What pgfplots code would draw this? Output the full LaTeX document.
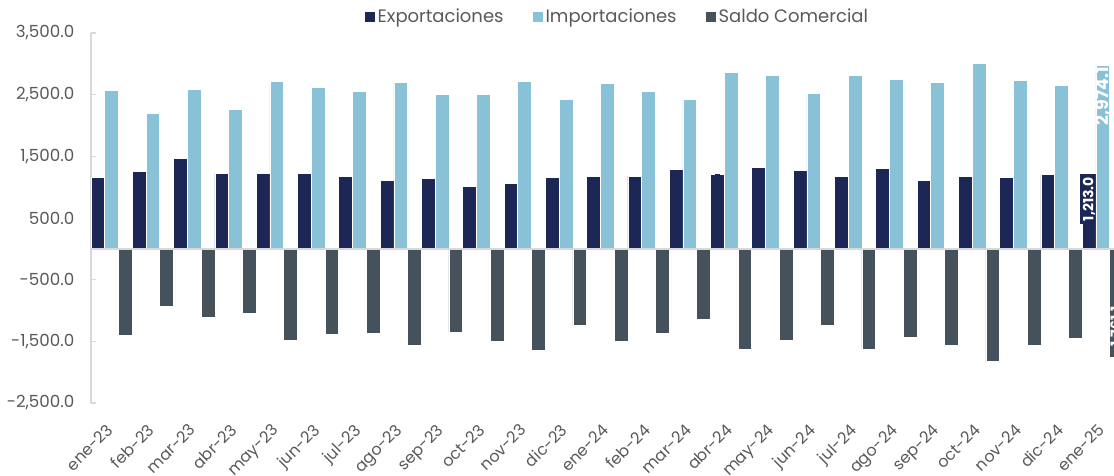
\documentclass[border=0pt]{standalone}
\usepackage{fontspec}
\setmainfont{Poppins}
\usepackage{pgfplots}
\usepackage{pgfplotstable}
\pgfplotsset{compat=1.18}
\usetikzlibrary{calc}

\definecolor{expcol}{HTML}{1C2756}
\definecolor{impcol}{HTML}{89C1D6}
\definecolor{salcol}{HTML}{45525C}
\definecolor{txtgray}{HTML}{595959}
\definecolor{axgray}{HTML}{D9D9D9}

% millones de USD, ene-23 .. ene-25 (x = 0..24)
\pgfplotstableread{
x y
0 1157
1 1255
2 1461
3 1222
4 1222
5 1222
6 1178
7 1113
8 1136
9 1006
10 1060
11 1157
12 1168
13 1178
14 1287
15 1211
16 1320
17 1271
18 1178
19 1298
20 1113
21 1178
22 1162
23 1201
24 1213.0
}\exportaciones

\pgfplotstableread{
x y
0 2564
1 2191
2 2580
3 2266
4 2710
5 2613
6 2548
7 2694
8 2499
9 2504
10 2715
11 2418
12 2678
13 2553
14 2428
15 2856
16 2808
17 2516
18 2808
19 2743
20 2699
21 3012
22 2727
23 2650
24 2974.1
}\importaciones

\pgfplotstableread{
x y
0 -1407
1 -931
2 -1115
3 -1039
4 -1483
5 -1391
6 -1364
7 -1569
8 -1353
9 -1499
10 -1651
11 -1245
12 -1504
13 -1375
14 -1136
15 -1634
16 -1483
17 -1234
18 -1623
19 -1440
20 -1569
21 -1824
22 -1558
23 -1452
24 -1761.1
}\saldo

\newcommand{\lastlabel}{\ifnum\coordindex=24\relax\pgfmathprintnumber[fixed,fixed zerofill,precision=1,1000 sep={,},assume math mode=true]{\pgfplotspointmeta}\fi}

\begin{document}
\begin{tikzpicture}
\begin{axis}[
    scale only axis,
    width=767.25pt, height=277.5pt,
    ymin=-2500, ymax=3500,
    ytick={-2500,-1500,...,3500},
    xmin=-0.5, xmax=24.27,
    ybar=0pt, bar width=0.3333,
    xtick={0,...,24},
    xticklabels={ene-23,feb-23,mar-23,abr-23,may-23,jun-23,jul-23,ago-23,sep-23,oct-23,nov-23,dic-23,
                 ene-24,feb-24,mar-24,abr-24,may-24,jun-24,jul-24,ago-24,sep-24,oct-24,nov-24,dic-24,ene-25},
    axis lines*=left,
    x axis line style={draw=none},
    y axis line style={draw=axgray, line width=1.2pt},
    xtick style={draw=none},
    ytick style={draw=axgray, line width=1pt},
    tick align=inside,
    major tick length=4pt,
    scaled y ticks=false,
    yticklabel style={/pgf/number format/.cd, fixed, fixed zerofill, precision=1, 1000 sep={,}, assume math mode=true,
        /tikz/.cd, font=\fontsize{12.5}{14}\selectfont, text=txtgray, xshift=-9pt},
    xticklabel style={xshift=-4.5pt, yshift=-10pt, rotate=45, anchor=north east, font=\fontsize{12}{14}\selectfont, text=txtgray},
    clip marker paths=true,
    point meta=y,
    nodes near coords=\lastlabel,
    legend columns=3,
    legend style={at={(0.515,1)}, anchor=center, yshift=12pt, draw=none, fill=none,
        font=\fontsize{13.5}{15}\selectfont, text=txtgray,
        /tikz/every even column/.append style={column sep=20pt}},
    legend image code/.code={\fill[#1,draw=none] (0pt,-3.75pt) rectangle (7.5pt,3.75pt);},
]
\addplot[fill=expcol, draw=white, line width=0.5pt,
    every node near coord/.append style={rotate=90, anchor=east, text=white, font=\bfseries\fontsize{10.5}{12}\selectfont, fill=expcol, inner sep=2pt}]
    table[x=x, y=y] {\exportaciones};
\addplot[fill=impcol, draw=white, line width=0.5pt,
    every node near coord/.append style={rotate=90, anchor=east, text=white, font=\bfseries\fontsize{13}{14}\selectfont, inner sep=1pt}]
    table[x=x, y=y] {\importaciones};
\addplot[fill=salcol, draw=white, line width=0.5pt,
    every node near coord/.append style={rotate=90, anchor=west, text=white, font=\bfseries\fontsize{10.5}{12}\selectfont, inner sep=2pt}]
    table[x=x, y=y] {\saldo};
\legend{Exportaciones, Importaciones, Saldo Comercial}
\draw[axgray, line width=1.5pt] (axis cs:-0.5,0) -- (axis cs:24.27,0);
\coordinate (BL) at (rel axis cs:0,0);
\coordinate (TR) at (rel axis cs:1,1);
\end{axis}
\pgfresetboundingbox
\path[use as bounding box] ($(BL)+(-68.25pt,-54pt)$) rectangle ($(TR)+(0pt,24.75pt)$);
\end{tikzpicture}
\end{document}
